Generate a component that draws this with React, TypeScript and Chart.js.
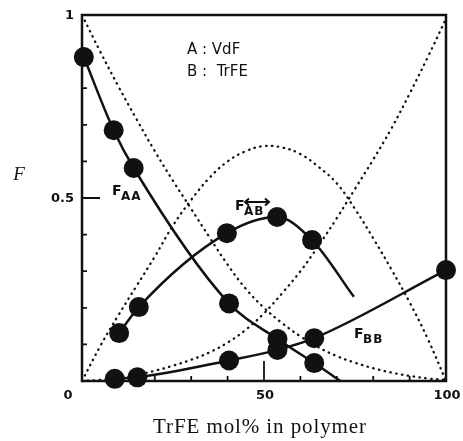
import { useEffect, useRef } from "react";
import { Chart, registerables } from "chart.js";

Chart.register(...registerables);

// Theoretical (dotted) curves
const theoX = [0, 5, 10, 15, 20, 25, 30, 35, 40, 45, 50, 55, 60, 65, 70, 75, 80, 85, 90, 95, 100];
const theoAA = [1.0, 0.9, 0.805, 0.715, 0.628, 0.547, 0.47, 0.393, 0.318, 0.252, 0.2, 0.158, 0.122, 0.092, 0.068, 0.05, 0.035, 0.023, 0.014, 0.007, 0.003];
const theoBB = [0, 0.003, 0.008, 0.017, 0.028, 0.042, 0.058, 0.078, 0.105, 0.14, 0.185, 0.24, 0.3, 0.37, 0.445, 0.525, 0.605, 0.69, 0.785, 0.885, 0.99];
const theoAB = [0, 0.095, 0.18, 0.26, 0.34, 0.425, 0.495, 0.555, 0.6, 0.628, 0.642, 0.638, 0.62, 0.585, 0.54, 0.47, 0.39, 0.305, 0.215, 0.115, 0.0];

// Measured (solid) curves; last AA / AB entries are curve ends without marker
const aaX = [0.5, 8.7, 14.2, 40.4, 53.7, 63.8, 71];
const aaY = [0.885, 0.685, 0.582, 0.212, 0.115, 0.049, 0.0];
const abX = [10.2, 15.6, 39.8, 53.6, 63.2, 74.7];
const abY = [0.131, 0.202, 0.404, 0.448, 0.385, 0.23];
const bbX = [9, 15.2, 40.4, 53.7, 63.8, 100];
const bbY = [0.006, 0.01, 0.056, 0.085, 0.117, 0.303];

// Axis ticks
const xMinorTicks = [10, 20, 30, 40, 50, 60, 70, 80, 90];
const yMinorTicks = [0.1, 0.2, 0.3, 0.4, 0.5, 0.6, 0.7, 0.8, 0.9];
const xTickValues = [50, 100];
const xTickLabels = ["50", "100"];
const yTickValues = [0.5, 1];
const yTickLabels = ["0.5", "1"];
const xTitle = "TrFE mol% in polymer";
const yTitle = "F";

const pts = (xs: number[], ys: number[]) => xs.map((x, i) => ({ x, y: ys[i] }));

const INK = "#111";

const decorPlugin = {
  id: "decor",
  afterDraw(chart: any) {
    const ctx = chart.ctx as CanvasRenderingContext2D;
    const xs = chart.scales.x;
    const ys = chart.scales.y;
    const { left, right, top, bottom } = chart.chartArea;
    ctx.save();
    ctx.strokeStyle = INK;
    ctx.fillStyle = INK;
    // frame
    ctx.lineWidth = 2.5;
    ctx.strokeRect(left, top, right - left, bottom - top);
    // ticks
    ctx.lineWidth = 1.8;
    ctx.beginPath();
    yMinorTicks.forEach((v) => {
      const py = ys.getPixelForValue(v);
      const len = Math.abs(v - 0.5) < 1e-6 ? 18 : 5;
      ctx.moveTo(left, py);
      ctx.lineTo(left + len, py);
    });
    xMinorTicks.forEach((v) => {
      const px = xs.getPixelForValue(v);
      const len = v === 50 ? 20 : 5;
      ctx.moveTo(px, bottom);
      ctx.lineTo(px, bottom - len);
    });
    ctx.stroke();
    // tick labels
    ctx.font = 'bold 13px "DejaVu Sans"';
    ctx.textBaseline = "middle";
    ctx.textAlign = "right";
    yTickValues.forEach((v, i) => {
      ctx.fillText(yTickLabels[i], left - 8, ys.getPixelForValue(v) + 1);
    });
    ctx.textAlign = "center";
    ctx.fillText("0", left - 14, bottom + 15);
    xTickValues.forEach((v, i) => {
      ctx.fillText(xTickLabels[i], xs.getPixelForValue(v) + 1, bottom + 15);
    });
    // axis titles
    ctx.textBaseline = "alphabetic";
    ctx.font = '21px "Liberation Serif"';
    (ctx as any).letterSpacing = "0.9px";
    ctx.fillText(xTitle, 260, 433);
    (ctx as any).letterSpacing = "0px";
    ctx.font = 'italic 19px "Liberation Serif"';
    ctx.fillText(yTitle, 19, 180);
    // legend text
    ctx.textAlign = "left";
    ctx.font = '15px "DejaVu Sans"';
    ctx.fillText("A : VdF", 187, 54);
    ctx.fillText("B :  TrFE", 187, 76);
    // curve labels with subscripts
    const sub = (main: string, s: string, x: number, y: number) => {
      ctx.font = 'bold 14px "DejaVu Sans"';
      ctx.fillText(main, x, y);
      const w = ctx.measureText(main).width;
      ctx.font = 'bold 12px "DejaVu Sans"';
      (ctx as any).letterSpacing = "1px";
      ctx.fillText(s, x + w - 0.5, y + 5);
      (ctx as any).letterSpacing = "0px";
    };
    sub("F", "AA", 112, 195);
    sub("F", "AB", 235, 210);
    sub("F", "BB", 354, 338);
    // double arrow over AB
    ctx.lineWidth = 2;
    ctx.beginPath();
    ctx.moveTo(245, 202);
    ctx.lineTo(269, 202);
    ctx.moveTo(249, 198.5);
    ctx.lineTo(245, 202);
    ctx.lineTo(249, 205.5);
    ctx.moveTo(265, 198.5);
    ctx.lineTo(269, 202);
    ctx.lineTo(265, 205.5);
    ctx.stroke();
    ctx.restore();
  },
};

export default function App() {
  const ref = useRef<HTMLCanvasElement>(null);
  useEffect(() => {
    const canvas = ref.current!;
    const dotted = (data: number[]) => ({
      data: pts(theoX, data),
      borderColor: INK,
      borderWidth: 2.3,
      borderDash: [0.5, 5.4],
      borderCapStyle: "round" as const,
      pointRadius: 0,
      tension: 0.4,
      fill: false,
      clip: false as const,
    });
    const solid = (xsA: number[], ysA: number[], radii: number[]) => ({
      data: pts(xsA, ysA),
      borderColor: INK,
      borderWidth: 2.5,
      pointRadius: radii,
      pointBackgroundColor: INK,
      pointBorderWidth: 0,
      cubicInterpolationMode: "monotone" as const,
      fill: false,
      clip: false as const,
    });
    const chart = new Chart(canvas, {
      type: "line",
      data: {
        datasets: [
          dotted(theoAA),
          dotted(theoBB),
          dotted(theoAB),
          solid(aaX, aaY, [10, 10, 10, 10, 10, 10, 0]),
          solid(abX, abY, [10, 10, 10, 10, 10, 0]),
          solid(bbX, bbY, [10, 10, 10, 10, 10, 10]),
        ] as any,
      },
      options: {
        responsive: false,
        animation: false,
        devicePixelRatio: 1,
        layout: { padding: { left: 82, right: 17, top: 15, bottom: 60 } },
        plugins: { legend: { display: false }, tooltip: { enabled: false } },
        scales: {
          x: { type: "linear", min: 0, max: 100, display: false },
          y: { type: "linear", min: 0, max: 1, display: false },
        },
      },
      plugins: [decorPlugin],
    });
    return () => chart.destroy();
  }, []);
  return (
    <div style={{ position: "absolute", left: 0, top: 0, width: 463, height: 441, background: "#fff" }}>
      <canvas ref={ref} width={463} height={441} style={{ display: "block" }} />
    </div>
  );
}
